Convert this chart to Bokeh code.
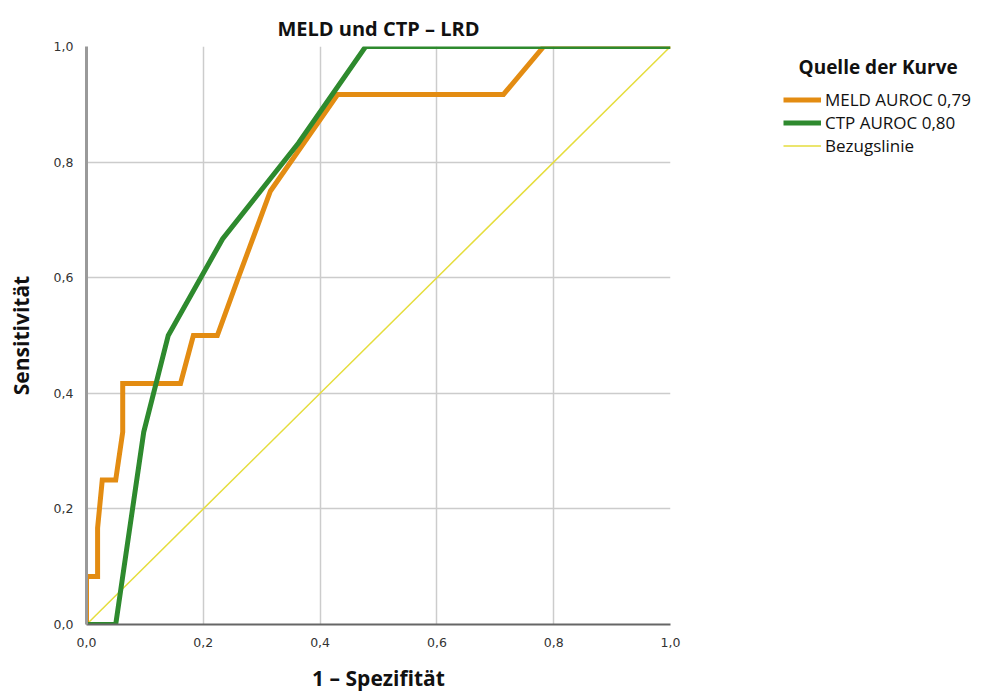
from bokeh.plotting import figure
from bokeh.models import Legend, LegendItem, FixedTicker, Range1d, Label
from bokeh.layouts import row
from bokeh.embed import file_html
from bokeh.resources import INLINE

# ---- data ----
meld_fpr = [0, 0, 0.019, 0.019, 0.027, 0.05, 0.062, 0.062, 0.161, 0.183, 0.224, 0.26, 0.315, 0.43, 0.714, 0.783, 1.0]
meld_tpr = [0, 0.083, 0.083, 0.167, 0.25, 0.25, 0.333, 0.417, 0.417, 0.5, 0.5, 0.6, 0.75, 0.917, 0.917, 1.0, 1.0]
ctp_fpr = [0, 0.05, 0.098, 0.14, 0.233, 0.363, 0.478, 1.0]
ctp_tpr = [0, 0, 0.333, 0.5, 0.667, 0.833, 1.0, 1.0]
ref_x = [0, 1]
ref_y = [0, 1]
tick_values = [0.0, 0.2, 0.4, 0.6, 0.8, 1.0]
tick_labels = ["0,0", "0,2", "0,4", "0,6", "0,8", "1,0"]
series_labels = ["MELD AUROC 0,79", "CTP AUROC 0,80", "Bezugslinie"]
series_colors = ["#e38c12", "#2e8a2e", "#e5dd3c"]
series_widths = [5, 5, 1.5]
legend_title = "Quelle der Kurve"

H = 694
p = figure(width=700, height=H, output_backend="svg", toolbar_location=None,
           x_range=Range1d(0, 1), y_range=Range1d(0, 1),
           min_border_left=86, min_border_right=30, min_border_top=46, min_border_bottom=H - 629,
           title="MELD und CTP – LRD")
p.outline_line_color = None
p.background_fill_color = "white"
p.border_fill_color = "white"

p.title.align = "center"
p.title.text_font = "Open Sans"
p.title.text_font_size = "20px"
p.title.text_font_style = "bold"
p.title.text_color = "#111111"
p.title.offset = 12

for ax in (p.xaxis[0], p.yaxis[0]):
    ax.ticker = FixedTicker(ticks=tick_values)
    ax.major_label_overrides = {v: l for v, l in zip(tick_values, tick_labels)}
    ax.major_tick_line_color = None
    ax.minor_tick_line_color = None
    ax.major_label_text_font = "DejaVu Sans"
    ax.major_label_text_font_size = "12.5px"
    ax.major_label_text_color = "#333333"
    ax.axis_label_text_font = "Open Sans"
    ax.axis_label_text_font_style = "bold"
    ax.axis_label_text_font_size = "21px"
    ax.axis_label_text_color = "#111111"

p.xaxis.axis_label = "1 – Spezifität"
p.yaxis.axis_label = "Sensitivität"
p.xaxis.axis_line_color = "#666666"
p.xaxis.axis_line_width = 2
p.yaxis.axis_line_color = "#9a9a9a"
p.yaxis.axis_line_width = 3
p.xaxis.major_label_standoff = 7
p.yaxis.major_label_standoff = 7
p.xaxis.axis_label_standoff = 14
p.yaxis.axis_label_standoff = 16

p.grid.grid_line_color = "#cccccc"
p.grid.grid_line_width = 1.5
p.grid.ticker = FixedTicker(ticks=tick_values)

p.line(ref_x, ref_y, line_color=series_colors[2], line_width=series_widths[2])
p.line(meld_fpr, meld_tpr, line_color=series_colors[0], line_width=series_widths[0], line_join="miter")
p.line(ctp_fpr, ctp_tpr, line_color=series_colors[1], line_width=series_widths[1], line_join="miter")

# ---- legend panel ----
q = figure(width=290, height=H, output_backend="svg", toolbar_location=None,
           x_range=Range1d(0, 1), y_range=Range1d(0, 1),
           min_border_left=41, min_border_top=46, min_border_right=0, min_border_bottom=H - 629)
q.axis.visible = False
q.grid.visible = False
q.outline_line_color = None
q.border_fill_color = "white"

items = []
for lab, col, w in zip(series_labels, series_colors, series_widths):
    r = q.line([5, 6], [5, 6], line_color=col, line_width=w)
    items.append(LegendItem(label=lab, renderers=[r]))

legend = Legend(items=items, location="top_left")
legend.label_text_font = "Open Sans"
legend.label_text_font_size = "17px"
legend.label_text_color = "#111111"
legend.glyph_width = 38
legend.glyph_height = 21
legend.label_height = 21
legend.spacing = 0
legend.padding = 2
legend.margin = 42
legend.label_standoff = 4
legend.border_line_color = None
legend.background_fill_alpha = 0
q.add_layout(legend, "center")

q.add_layout(Label(x=0.229, y=0.964, text=legend_title, text_font="Open Sans",
                   text_font_style="bold", text_font_size="19px", text_color="#111111",
                   text_baseline="middle", text_align="left"))

layout = row(p, q)
open("out.html", "w").write(file_html(layout, INLINE))
